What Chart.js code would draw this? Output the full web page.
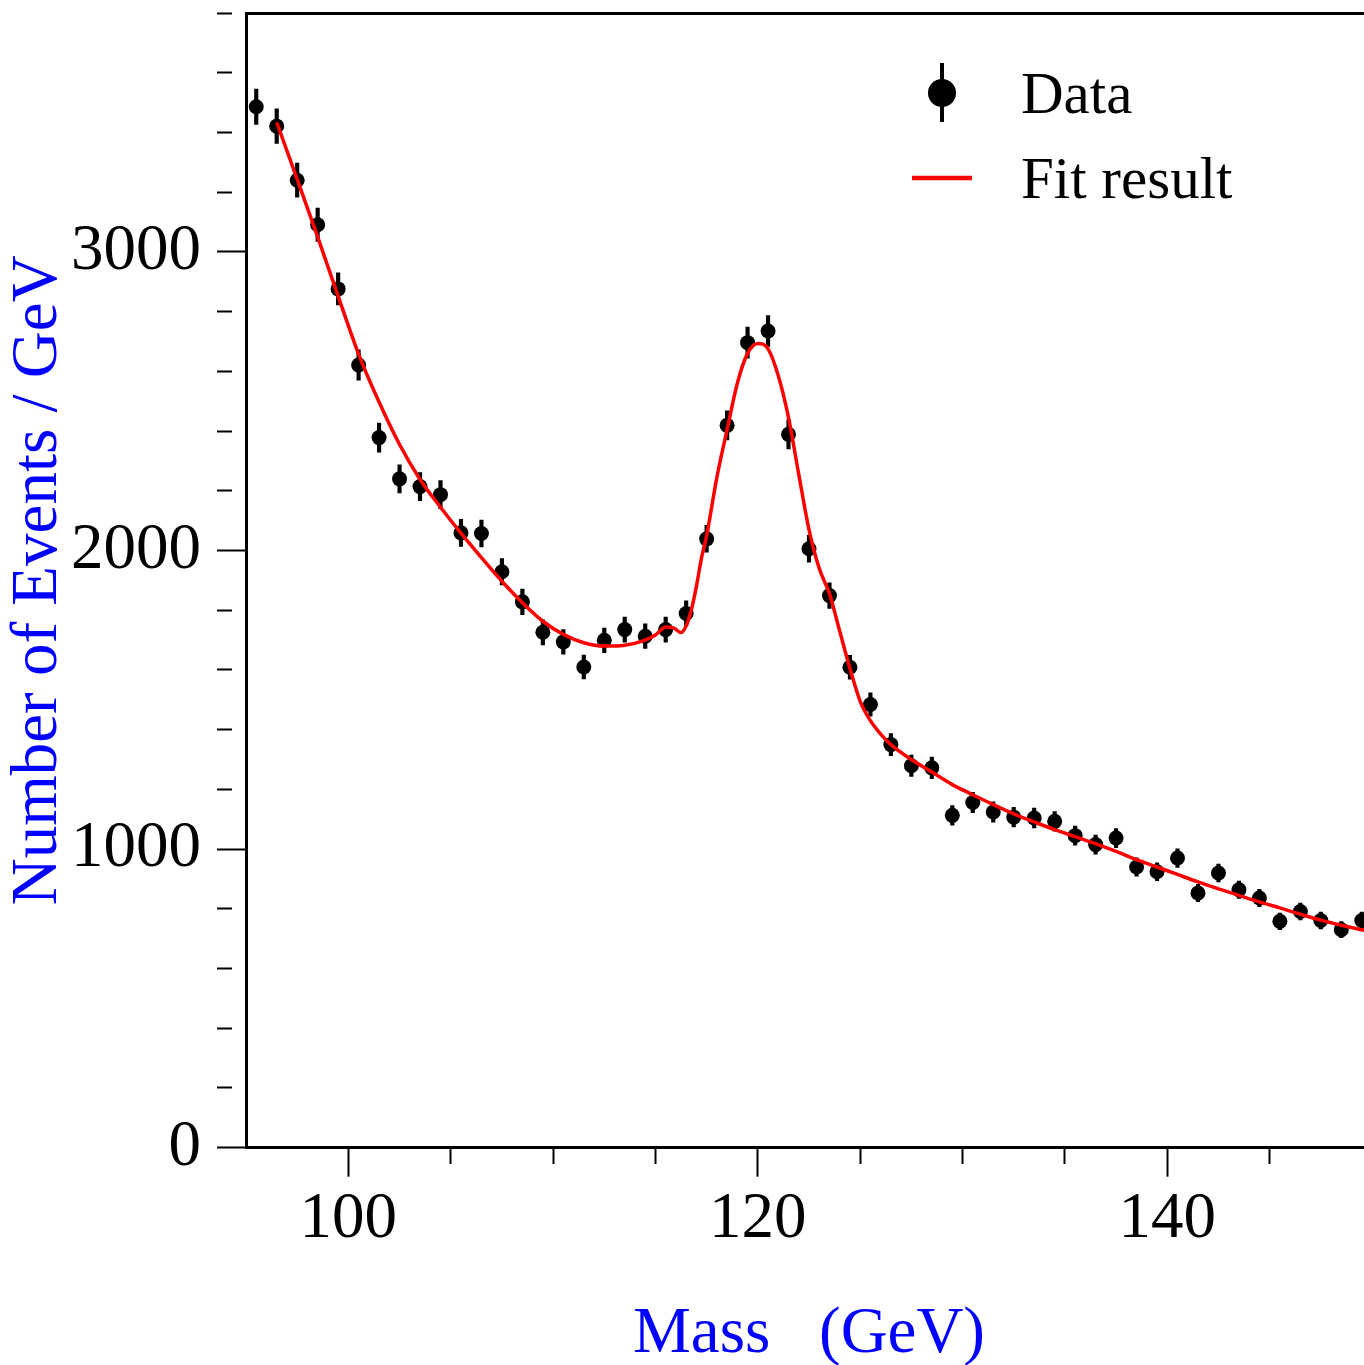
<!DOCTYPE html>
<html>
<head>
<meta charset="utf-8">
<title>Mass spectrum fit</title>
<script src="https://cdn.jsdelivr.net/npm/chart.js@4.4.1/dist/chart.umd.min.js"></script>
<style>
  html, body { margin: 0; padding: 0; background: #fff; overflow: hidden; }
  canvas { display: block; }
</style>
</head>
<body>
<canvas id="mass-chart" width="1400" height="1365"></canvas>
<script>
// binned events per GeV
const binCenters = [
  95.5, 96.5, 97.5, 98.5, 99.5, 100.5, 101.5, 102.5, 103.5, 104.5,
  105.5, 106.5, 107.5, 108.5, 109.5, 110.5, 111.5, 112.5, 113.5, 114.5,
  115.5, 116.5, 117.5, 118.5, 119.5, 120.5, 121.5, 122.5, 123.5, 124.5,
  125.5, 126.5, 127.5, 128.5, 129.5, 130.5, 131.5, 132.5, 133.5, 134.5,
  135.5, 136.5, 137.5, 138.5, 139.5, 140.5, 141.5, 142.5, 143.5, 144.5,
  145.5, 146.5, 147.5, 148.5, 149.5
];
const eventCounts = [
  3486, 3421, 3240, 3091, 2876, 2621, 2378, 2240, 2214, 2187,
  2059, 2057, 1929, 1828, 1726, 1694, 1610, 1699, 1735, 1713,
  1735, 1789, 2039, 2419, 2696, 2735, 2389, 2006, 1849, 1609,
  1484, 1350, 1279, 1272, 1113, 1156, 1124, 1107, 1104, 1093,
  1045, 1015, 1037, 940, 924, 970, 853, 920, 864, 836,
  758, 791, 761, 730, 761
];
const countErrors = [
  59, 58, 57, 56, 54, 51, 49, 47, 47, 47,
  45, 45, 44, 43, 42, 41, 40, 41, 42, 41,
  42, 42, 45, 49, 52, 52, 49, 45, 43, 40,
  39, 37, 36, 36, 33, 34, 34, 33, 33, 33,
  32, 32, 32, 31, 30, 31, 29, 30, 29, 29,
  28, 28, 28, 27, 28
];

// fitted curve, sampled along the mass axis
const fitMass = [
  96.5, 97.5, 98.5, 99.5, 100.5, 101.5, 102.5, 103.5, 104.5, 105.5,
  106.5, 107.5, 108.5, 109.5, 110.5, 111.5, 112.5, 113.5, 114.5, 115.0,
  115.5, 115.9, 116.25, 116.5, 116.75, 117.0, 117.25, 117.5, 118.0, 118.5,
  119.0, 119.5, 120.0, 120.5, 121.0, 121.5, 122.0, 122.5, 123.0, 123.5,
  124.0, 124.5, 125.0, 125.5, 126.0, 126.5, 127.5, 128.5, 129.5, 130.5,
  131.5, 132.5, 133.5, 134.5, 135.5, 136.5, 137.5, 138.5, 139.5, 140.5,
  141.5, 142.5, 143.5, 144.5, 145.5, 146.5, 147.5, 148.5, 149.5, 150.0
];
const fitCounts = [
  3434, 3243, 3050, 2852, 2658, 2497, 2355, 2238, 2145, 2058,
  1976, 1897, 1825, 1763, 1719, 1691, 1680, 1683, 1700, 1717,
  1744, 1740, 1725, 1748, 1800, 1880, 1975, 2050, 2245, 2405,
  2560, 2660, 2693, 2675, 2585, 2445, 2255, 2070, 1940, 1855,
  1730, 1605, 1495, 1430, 1385, 1350, 1300, 1258, 1216, 1182,
  1149, 1118, 1091, 1065, 1042, 1018, 992, 965, 940, 915,
  890, 867, 845, 823, 803, 782, 762, 745, 730, 722
];

const xTickLabels = [100, 120, 140];
const yTickLabels = [0, 1000, 2000, 3000];

const serif = '"Liberation Serif", "Times New Roman", serif';

const errorBars = binCenters.map((x, i) => ({ x, y: [eventCounts[i] - countErrors[i], eventCounts[i] + countErrors[i]] }));
const dataPoints = binCenters.map((x, i) => ({ x, y: eventCounts[i] }));
const fitPoints = fitMass.map((x, i) => ({ x, y: fitCounts[i] }));

// legend drawn inside the plot, top right
const fitLegend = {
  id: 'fitLegend',
  afterDraw(chart) {
    const { ctx } = chart;
    const [fitSet, dataSet] = chart.data.datasets;
    ctx.save();
    ctx.strokeStyle = '#000';
    ctx.lineWidth = 4;
    ctx.beginPath();
    ctx.moveTo(942, 63);
    ctx.lineTo(942, 122);
    ctx.stroke();
    ctx.fillStyle = '#000';
    ctx.beginPath();
    ctx.arc(942, 93, 14, 0, Math.PI * 2);
    ctx.fill();

    ctx.strokeStyle = '#ff0000';
    ctx.lineWidth = 4.5;
    ctx.beginPath();
    ctx.moveTo(912, 178);
    ctx.lineTo(972, 178);
    ctx.stroke();

    ctx.fillStyle = '#000';
    ctx.font = '59px ' + serif;
    ctx.textBaseline = 'alphabetic';
    ctx.textAlign = 'left';
    ctx.fillText(dataSet.label, 1021, 113);
    ctx.fillText(fitSet.label, 1021, 198);
    ctx.restore();
  }
};

const isMajorX = (v) => xTickLabels.includes(v);
const isMajorY = (v) => yTickLabels.includes(v);

new Chart(document.getElementById('mass-chart'), {
  type: 'scatter',
  data: {
    datasets: [
      {
        type: 'line',
        label: 'Fit result',
        data: fitPoints,
        borderColor: '#ff0000',
        borderWidth: 3.5,
        pointRadius: 0,
        fill: false,
        cubicInterpolationMode: 'monotone',
        order: 0
      },
      {
        label: 'Data',
        data: dataPoints,
        backgroundColor: '#000',
        borderWidth: 0,
        pointRadius: 7.5,
        order: 1
      },
      {
        type: 'bar',
        label: 'errors',
        data: errorBars,
        backgroundColor: '#000',
        borderWidth: 0,
        barThickness: 3.5,
        order: 2
      }
    ]
  },
  options: {
    responsive: false,
    animation: false,
    devicePixelRatio: 1,
    layout: { padding: { top: 13, right: 28, bottom: 0, left: 0 } },
    plugins: {
      legend: { display: false },
      tooltip: { enabled: false }
    },
    scales: {
      x: {
        type: 'linear',
        position: 'bottom',
        min: 95,
        max: 150,
        offset: false,
        afterFit: (s) => { s.height = 217.3; s.paddingLeft = 0; s.paddingRight = 0; },
        grid: {
          offset: false,
          drawOnChartArea: false,
          drawTicks: true,
          tickLength: 29,
          tickWidth: 2,
          tickColor: (c) => (c.tick && c.tick.value === 95 ? 'rgba(0,0,0,0)' : '#000'),
          tickBorderDash: (c) => (c.tick && isMajorX(c.tick.value) ? [] : [15, 100])
        },
        border: { display: true, color: '#000', width: 3 },
        ticks: {
          stepSize: 5,
          autoSkip: false,
          maxRotation: 0,
          padding: 4,
          color: '#000',
          font: { family: serif, size: 65 },
          callback: (v) => (isMajorX(v) ? String(v) : '')
        },
        title: {
          display: true,
          text: 'Mass   (GeV)',
          color: '#0000ff',
          font: { family: serif, size: 65, lineHeight: 1 },
          padding: { top: 0, bottom: -2 }
        }
      },
      xTop: {
        type: 'linear',
        position: 'top',
        min: 95,
        max: 150,
        afterFit: (s) => { s.height = 0; },
        grid: { display: false, drawTicks: false },
        border: { display: true, color: '#000', width: 3 },
        ticks: { display: false }
      },
      y: {
        type: 'linear',
        position: 'left',
        min: 0,
        max: 3800,
        afterFit: (s) => { s.width = 246; s.paddingTop = 0; s.paddingBottom = 0; },
        grid: {
          drawOnChartArea: false,
          drawTicks: true,
          tickLength: 29,
          tickWidth: 2,
          tickColor: '#000',
          tickBorderDash: (c) => (c.tick && isMajorY(c.tick.value) ? [] : [15, 100])
        },
        border: { display: true, color: '#000', width: 3 },
        ticks: {
          stepSize: 200,
          autoSkip: false,
          padding: 16,
          color: '#000',
          font: { family: serif, size: 65 },
          callback: (v) => (isMajorY(v) ? String(v) : '')
        },
        title: {
          display: true,
          text: 'Number of Events / GeV',
          color: '#0000ff',
          font: { family: serif, size: 65, lineHeight: 1.2 },
          padding: { top: 0, bottom: 0 }
        }
      }
    }
  },
  plugins: [fitLegend]
});
</script>
</body>
</html>
